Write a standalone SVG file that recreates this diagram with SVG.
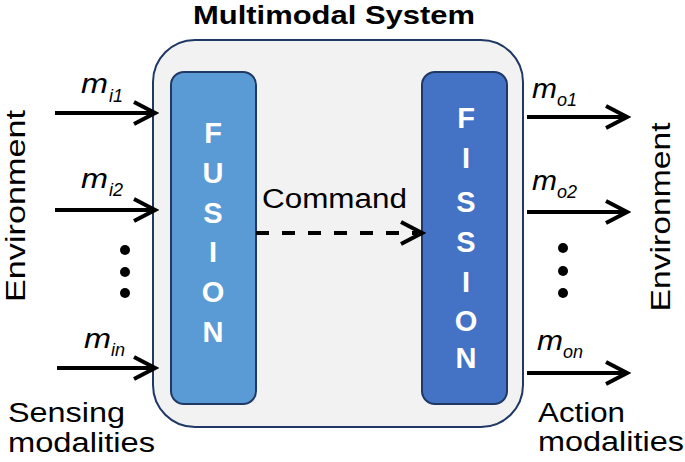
<svg xmlns="http://www.w3.org/2000/svg" width="685" height="462" viewBox="0 0 685 462">
<style>
.t{font-family:"Liberation Sans",Arial,sans-serif;fill:#000}
.title{font-weight:bold;font-size:25px}
.lbl{font-size:27px}
.m{font-style:italic;font-size:28px}
.sub{font-style:italic;font-size:18px}
.letter{font-family:"Liberation Sans",Arial,sans-serif;font-weight:bold;font-size:29px;fill:#fff;text-anchor:middle}
.arrow{stroke:#000;stroke-width:4;fill:none;marker-end:url(#ah)}
.dash{stroke-dasharray:13 13}
.dot{fill:#000}
</style>
<defs>
<marker id="ah" viewBox="0 0 26 28" refX="22" refY="14" markerWidth="26" markerHeight="28" markerUnits="userSpaceOnUse" orient="auto">
<path d="M1,3 L22,14 L1,25" fill="none" stroke="#000" stroke-width="4"/>
</marker>
</defs>
<rect width="685" height="462" fill="#fff"/>
<g id="system">
<rect x="153" y="40" width="370" height="387" rx="42" ry="42" fill="#f2f2f2" stroke="#1f3864" stroke-width="2"/>
<text class="t title" x="193" y="24" textLength="282" lengthAdjust="spacingAndGlyphs">Multimodal System</text>
</g>
<g id="fusion">
<rect x="171" y="72" width="85" height="332" rx="13" ry="13" fill="#5b9bd5" stroke="#1f3864" stroke-width="2"/>
<text class="letter" x="213" y="143">F</text>
<text class="letter" x="213" y="183">U</text>
<text class="letter" x="213" y="223">S</text>
<text class="letter" x="213" y="262">I</text>
<text class="letter" x="213" y="302">O</text>
<text class="letter" x="213" y="342">N</text>
</g>
<g id="fission">
<rect x="422" y="72" width="85" height="332" rx="13" ry="13" fill="#4472c4" stroke="#1f3864" stroke-width="2"/>
<text class="letter" x="466" y="128">F</text>
<text class="letter" x="466" y="168">I</text>
<text class="letter" x="466" y="212">S</text>
<text class="letter" x="466" y="252">S</text>
<text class="letter" x="466" y="292">I</text>
<text class="letter" x="466" y="331">O</text>
<text class="letter" x="466" y="368">N</text>
</g>
<g id="env-left">
<text class="t lbl" transform="translate(25,206) rotate(-90)" text-anchor="middle" textLength="192" lengthAdjust="spacingAndGlyphs">Environment</text>
</g>
<g id="env-right">
<text class="t lbl" transform="translate(670,217) rotate(-90)" text-anchor="middle" textLength="189" lengthAdjust="spacingAndGlyphs">Environment</text>
</g>
<g id="sensing">
<text class="t lbl" x="8" y="422" textLength="117" lengthAdjust="spacingAndGlyphs">Sensing</text>
<text class="t lbl" x="8" y="452" textLength="147" lengthAdjust="spacingAndGlyphs">modalities</text>
</g>
<g id="action">
<text class="t lbl" x="538" y="422" textLength="87" lengthAdjust="spacingAndGlyphs">Action</text>
<text class="t lbl" x="538" y="451" textLength="146" lengthAdjust="spacingAndGlyphs">modalities</text>
</g>
<g id="connectors">
<line class="arrow" x1="55" y1="113" x2="155" y2="113"/>
<line class="arrow" x1="55" y1="210" x2="155" y2="210"/>
<line class="arrow" x1="57" y1="368" x2="155" y2="368"/>
<line class="arrow" x1="527" y1="117" x2="627" y2="117"/>
<line class="arrow" x1="527" y1="212" x2="627" y2="212"/>
<line class="arrow" x1="527" y1="373" x2="627" y2="373"/>
<line class="arrow dash" x1="256" y1="233" x2="422" y2="233"/>
</g>
<g id="labels">
<text class="t m" x="81" y="93" textLength="27" lengthAdjust="spacingAndGlyphs">m</text><text class="t sub" x="109" y="102">i1</text>
<text class="t m" x="81" y="188" textLength="27" lengthAdjust="spacingAndGlyphs">m</text><text class="t sub" x="109" y="196">i2</text>
<text class="t m" x="84" y="348" textLength="27" lengthAdjust="spacingAndGlyphs">m</text><text class="t sub" x="111" y="356">in</text>
<text class="t m" x="532" y="98" textLength="25" lengthAdjust="spacingAndGlyphs">m</text><text class="t sub" x="557" y="106">o1</text>
<text class="t m" x="532" y="190" textLength="25" lengthAdjust="spacingAndGlyphs">m</text><text class="t sub" x="557" y="198">o2</text>
<text class="t m" x="537" y="350" textLength="26" lengthAdjust="spacingAndGlyphs">m</text><text class="t sub" x="563" y="358">on</text>
<text class="t" x="262" y="208" font-size="27" textLength="145" lengthAdjust="spacingAndGlyphs">Command</text>
</g>
<g id="dots">
<circle class="dot" cx="125" cy="250" r="5"/>
<circle class="dot" cx="125" cy="272" r="5"/>
<circle class="dot" cx="125" cy="293" r="5"/>
<circle class="dot" cx="563" cy="248" r="5"/>
<circle class="dot" cx="563" cy="271" r="5"/>
<circle class="dot" cx="563" cy="293" r="5"/>
</g>
</svg>
